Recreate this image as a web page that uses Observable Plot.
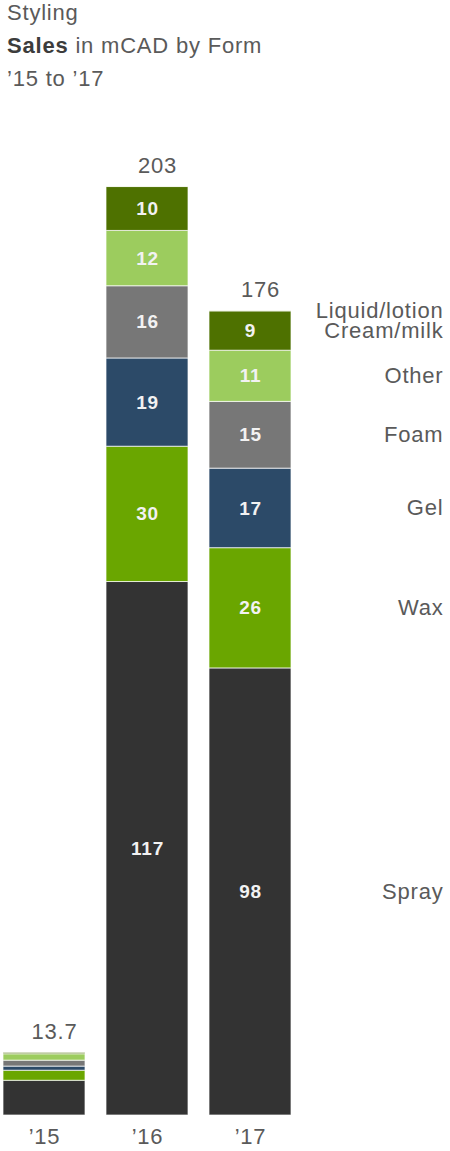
<!DOCTYPE html>
<html>
<head>
<meta charset="utf-8">
<script src="https://cdn.jsdelivr.net/npm/d3@7"></script>
<script src="https://cdn.jsdelivr.net/npm/@observablehq/plot@0.6"></script>
<style>
  body { margin: 0; background: #fff; font-family: "Liberation Sans", Arial, sans-serif; }
  #wrap { position: relative; width: 450px; height: 1151px; overflow: hidden; }
  #title { position: absolute; left: 7px; top: -4px; font-size: 22px; letter-spacing: 0.8px; line-height: 33px; color: #5a5a5a; }
  #title b { color: #3c3c3c; }
  #chart { position: absolute; left: 0; top: 100px; }
  #chart text { letter-spacing: 0.8px; }
</style>
</head>
<body>
<div id="wrap">
  <div id="title">
    <div>Styling</div>
    <div><b>Sales</b> in mCAD by Form</div>
    <div>’15 to ’17</div>
  </div>
  <div id="chart"></div>
</div>
<script>
const years = ["’15", "’16", "’17"];
const forms = ["Spray", "Wax", "Gel", "Foam", "Other", "Cream/milk", "Liquid/lotion"];
const colors = ["#333333", "#6aa600", "#2c4a68", "#777777", "#9ccc5e", "#4e7100", "#c6df9f"];
const sales15 = [7.6, 2.2, 0.9, 1.3, 1.4, 0.3, 0.0];
const sales16 = [116.7, 29.6, 19.3, 15.8, 12.1, 9.6, 0.1];
const sales17 = [97.8, 26.3, 17.4, 14.6, 11.2, 8.6, 0.1];

const series = [sales15, sales16, sales17];
const data = [];
years.forEach((yr, i) => forms.forEach((f, j) => data.push({year: yr, form: f, value: series[i][j]})));
const last = data.filter(d => d.year === years[years.length - 1]);

const fmtTotal = v => v < 100 ? d3.format(".1f")(v) : d3.format(".0f")(v);

const plot = Plot.plot({
  width: 450,
  height: 1051,
  marginTop: 87,
  marginBottom: 36,
  marginLeft: 0,
  marginRight: 7,
  style: {fontFamily: "'Liberation Sans', Arial, sans-serif", color: "#5a5a5a", background: "transparent"},
  x: {domain: years, range: [2, 293], paddingInner: 0.2, paddingOuter: 0, axis: null, label: null},
  y: {domain: [0, 203], axis: null},
  color: {domain: forms, range: colors},
  marks: [
    Plot.barY(data, Plot.stackY({x: "year", y: "value", fill: "form", stroke: "#ffffff", strokeWidth: 1, strokeOpacity: 0.7})),
    Plot.text(data, Plot.stackY({
      x: "year", y: "value", text: d => d.value >= 5 && d.year !== years[0] ? d3.format(".0f")(d.value) : "",
      fill: "#f2f2f2", fontWeight: "bold", fontSize: 19
    })),
    Plot.text(data, Plot.groupX(
      {y: "sum", text: v => fmtTotal(d3.sum(v))},
      {x: "year", y: "value", text: "value", dy: -21, dx: 10, fontSize: 22, fill: "#5a5a5a"}
    )),
    Plot.text(last, Plot.stackY({
      y: "value", text: "form",
      frameAnchor: "right", textAnchor: "end", fontSize: 22, fill: "#5a5a5a"
    })),
    Plot.axisX({tickSize: 0, tickPadding: 13, fontSize: 22, fill: "#5a5a5a", label: null})
  ]
});
document.getElementById("chart").appendChild(plot);
</script>
</body>
</html>
